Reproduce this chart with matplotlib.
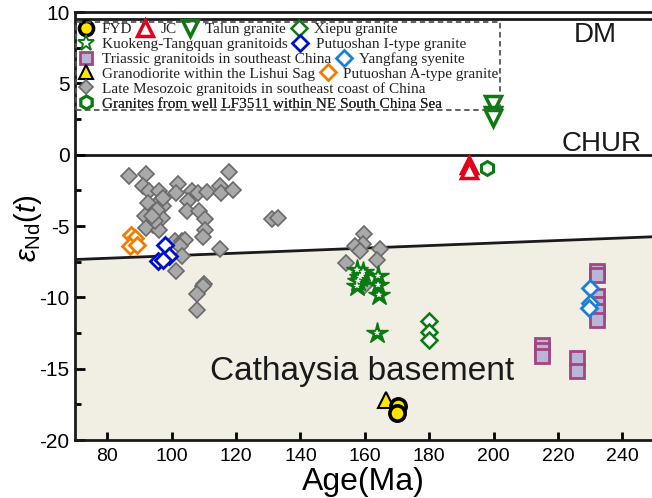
import matplotlib
matplotlib.use("Agg")
import matplotlib.pyplot as plt
from matplotlib.lines import Line2D
from matplotlib.patches import Rectangle

# ---------------- data ----------------
late_meso_age = [86.9, 92.0, 91.0, 93.1, 96.2, 96.4, 92.8, 97.4, 94.1, 91.7, 96.9, 94.3, 92.0,
                 96.2, 94.8, 95.4, 97.4, 93.8, 102.1, 101.4, 106.2, 108.3, 110.9, 115.0, 115.2,
                 119.2, 117.9, 105.2, 104.9, 108.6, 110.4, 110.4, 109.7, 101.1, 103.1, 104.2,
                 102.6, 103.1, 115.0, 101.4, 110.1, 109.7, 108.0, 108.0, 131.1, 133.1, 159.8,
                 159.3, 157.0, 158.5, 164.7, 163.9, 154.2, 159.8]
late_meso_end = [-1.47, -1.38, -2.22, -2.57, -2.57, -3.27, -3.39, -3.62, -4.09, -4.32, -4.44, -4.91,
                 -5.14, -5.26, -4.67, -3.85, -3.04, -4.32, -2.03, -2.69, -2.57, -2.69, -2.64, -2.17,
                 -2.69, -2.45, -1.24, -3.27, -3.97, -3.97, -4.51, -5.30, -5.77, -6.07, -6.07, -6.0,
                 -6.43, -7.08, -6.61, -8.18, -9.04, -9.23, -9.74, -10.86, -4.51, -4.44, -5.54,
                 -6.24, -6.42, -6.78, -6.61, -7.36, -7.59, -9.23]

pa_age = [87.3, 88.6, 87.1, 89.2]
pa_end = [-5.61, -5.84, -6.38, -6.31]

pi_age = [98.0, 99.3, 95.9, 97.4]
pi_end = [-6.31, -7.12, -7.47, -7.36]

kt_age = [157.5, 159.0, 158.0, 157.5, 159.4, 164.2, 164.2, 164.5, 158.5, 163.7]
kt_end = [-8.06, -8.41, -8.88, -9.23, -8.20, -8.53, -9.11, -9.81, -8.60, -12.5]

xiepu_age = [180.0, 180.0, 180.0]
xiepu_end = [-11.68, -12.45, -13.01]

jc_age = [192.5, 192.5]
jc_end = [-0.70, -1.05]

lf_age = [198.0]
lf_end = [-0.93]

talun_age = [199.9, 199.9, 199.9]
talun_end = [3.55, 2.80, 2.55]

tri_age = [232.0, 232.0, 232.0, 232.0, 232.0, 232.0, 214.9, 214.9, 214.9, 226.0, 226.0]
tri_end = [-8.18, -8.40, -9.93, -10.50, -10.98, -11.60, -13.31, -13.70, -14.13, -14.25, -15.18]

yf_age = [229.9, 229.9, 229.7]
yf_end = [-9.34, -10.39, -10.74]

fyd_age = [170.4, 169.9]
fyd_end = [-17.64, -18.10]

lishui_age = [166.6]
lishui_end = [-17.22]

# reference lines and basement field boundary
chur_end = 0.0
dm_end = 9.5
basement_age = [70, 250]
basement_end = [-7.35, -5.75]

# ---------------- styles ----------------
plt.rcParams["font.family"] = ["Liberation Sans", "DejaVu Sans"]
plt.rcParams["mathtext.fontset"] = "custom"
plt.rcParams["mathtext.rm"] = "Liberation Sans"
plt.rcParams["mathtext.it"] = "Liberation Sans:italic"
plt.rcParams["mathtext.bf"] = "Liberation Sans:bold"
plt.rcParams["axes.unicode_minus"] = False

GREEN = "#0b7a12"
styles = {
    "FYD": dict(marker="o", ms=11, mfc="#ffe400", mec="black", mew=2.6),
    "JC": dict(marker="^", ms=12, mfc="white", mec="#e3001b", mew=2.5),
    "Talun granite": dict(marker="v", ms=12, mfc="white", mec=GREEN, mew=2.5),
    "Xiepu granite": dict(marker="D", ms=8.5, mfc="white", mec=GREEN, mew=1.8),
    "Kuokeng-Tangquan granitoids": dict(marker="*", ms=16, mfc=GREEN, mec=GREEN, mew=1.0),
    "Putuoshan I-type granite": dict(marker="D", ms=8.5, mfc="white", mec="#0010c8", mew=2.0),
    "Triassic granitoids in southeast China": dict(marker="s", ms=10, mfc="#bab4d6", mec="#a3457e", mew=2.0),
    "Yangfang syenite": dict(marker="D", ms=8.5, mfc="white", mec="#1a7fd6", mew=2.0),
    "Granodiorite within the Lishui Sag": dict(marker="^", ms=11, mfc="#ffe400", mec="black", mew=1.5),
    "Putuoshan A-type granite": dict(marker="D", ms=8.5, mfc="white", mec="#f07d00", mew=2.0),
    "Late Mesozoic granitoids in southeast coast of China": dict(marker="D", ms=8, mfc="#a9a9a9", mec="#6a6a6a", mew=1.2),
    "Granites from well LF3511 within NE South China Sea": dict(marker="h", ms=10, mfc="white", mec=GREEN, mew=2.2),
}

fig = plt.figure(figsize=(6.52, 4.98), dpi=100)
ax = fig.add_axes([75 / 652, 58 / 498, 577 / 652, 428 / 498])
ax.set_xlim(70, 249.2)
ax.set_ylim(-20, 10)

# Cathaysia basement field
ax.fill_between(basement_age, basement_end, -20, color="#f1eee4", lw=0, zorder=0)
ax.plot(basement_age, basement_end, color="#1a1a1a", lw=2, zorder=1)
ax.axhline(chur_end, color="#1a1a1a", lw=2, zorder=1)
ax.axhline(dm_end, color="#1a1a1a", lw=2, zorder=1)


def draw(x, y, name, z=3):
    ax.plot(x, y, ls="none", zorder=z, **styles[name])


draw(late_meso_age, late_meso_end, "Late Mesozoic granitoids in southeast coast of China", 2)
draw(pa_age, pa_end, "Putuoshan A-type granite")
draw(pi_age, pi_end, "Putuoshan I-type granite")
draw(kt_age, kt_end, "Kuokeng-Tangquan granitoids")
ax.plot(kt_age, kt_end, ls="none", marker="*", ms=4, mfc="white", mec="white", mew=0.3, zorder=3.5)
draw(xiepu_age, xiepu_end, "Xiepu granite")
draw(jc_age, jc_end, "JC")
draw(lf_age, lf_end, "Granites from well LF3511 within NE South China Sea")
draw(talun_age, talun_end, "Talun granite")
draw(tri_age, tri_end, "Triassic granitoids in southeast China")
draw(yf_age, yf_end, "Yangfang syenite", 4)
draw(lishui_age, lishui_end, "Granodiorite within the Lishui Sag")
draw(fyd_age, fyd_end, "FYD", 4)

# labels inside the plot
ax.text(231.5, 8.4, "DM", fontsize=20, ha="center", va="center", color="#1a1a1a")
ax.text(233.5, 0.72, "CHUR", fontsize=20, ha="center", va="center", color="#1a1a1a")
ax.text(112, -15.2, "Cathaysia basement", fontsize=24, ha="left", va="center", color="#1a1a1a")

# axes styling
for side in ["left", "bottom", "top"]:
    ax.spines[side].set_linewidth(2)
    ax.spines[side].set_color("#1a1a1a")
ax.spines["right"].set_visible(False)
ax.set_xticks([80, 100, 120, 140, 160, 180, 200, 220, 240])
ax.set_yticks([-20, -15, -10, -5, 0, 5, 10])
ax.set_yticks([-17.5, -12.5, -7.5, -2.5, 2.5, 7.5], minor=True)
ax.tick_params(axis="x", direction="in", length=6, width=2, labelsize=14, pad=6)
ax.tick_params(axis="y", which="major", direction="in", length=7, width=2, labelsize=15, pad=4)
ax.tick_params(axis="y", which="minor", direction="in", length=4, width=2)
ax.set_xlabel("Age(Ma)", fontsize=23, labelpad=1)
fig.text(28 / 652, 1 - 228 / 498, r"$\varepsilon_{\mathrm{Nd}}(t)$", fontsize=21,
         rotation=90, ha="center", va="center")

# legend rows inside a dashed box
rows = [
    ["FYD", "JC", "Talun granite", "Xiepu granite"],
    ["Kuokeng-Tangquan granitoids", "Putuoshan I-type granite"],
    ["Triassic granitoids in southeast China", "Yangfang syenite"],
    ["Granodiorite within the Lishui Sag", "Putuoshan A-type granite"],
    ["Late Mesozoic granitoids in southeast coast of China"],
    ["Granites from well LF3511 within NE South China Sea"],
]
row_px = [29.3, 44.5, 59.2, 73.9, 88.8, 104.0]
for names, ypx in zip(rows, row_px):
    handles = []
    for n in names:
        st = dict(styles[n])
        if n == "Kuokeng-Tangquan granitoids":
            st.update(ms=12, mfc="white", mew=1.4)
        else:
            st["ms"] = st["ms"] * 0.92
        handles.append(Line2D([], [], ls="none", **st))
    yf = (440 - ypx) / 428
    leg = ax.legend(handles, names, loc="center left", bbox_to_anchor=(0.0, yf),
                    ncol=len(names), frameon=False, borderpad=0, borderaxespad=0.25,
                    handlelength=1.0, handletextpad=0.5, columnspacing=0.35,
                    prop={"family": ["Liberation Serif", "DejaVu Serif"], "size": 11.0},
                    labelcolor="#222222")
    ax.add_artist(leg)

ax.add_patch(Rectangle((70.4, 3.13), 202.0 - 70.4, 9.32 - 3.13, fill=False,
                       ec="#555555", lw=1.3, ls=(0, (3, 2)), zorder=5))

fig.savefig("out.png", dpi=100)
